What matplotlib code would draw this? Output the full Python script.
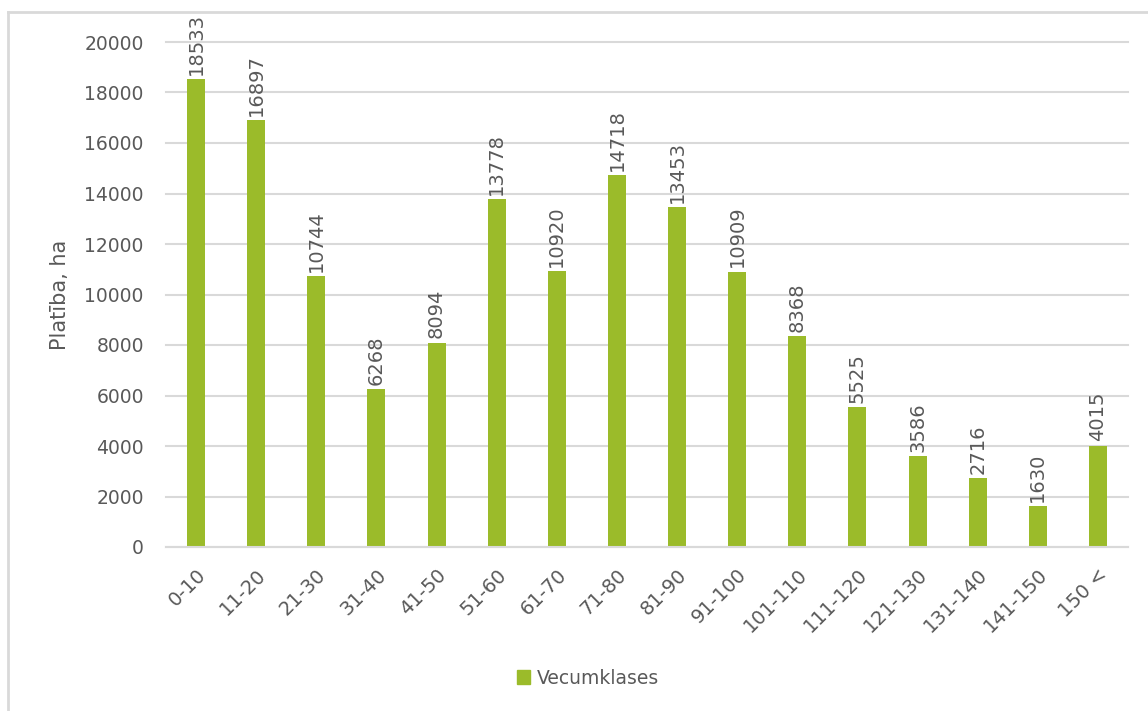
import matplotlib.pyplot as plt
from matplotlib.lines import Line2D
from matplotlib.patches import Patch

# age classes and area (ha)
categories = ["0-10", "11-20", "21-30", "31-40", "41-50", "51-60", "61-70", "71-80",
              "81-90", "91-100", "101-110", "111-120", "121-130", "131-140", "141-150", "150 <"]
values = [18533, 16897, 10744, 6268, 8094, 13778, 10920, 14718,
          13453, 10909, 8368, 5525, 3586, 2716, 1630, 4015]
yticks = list(range(0, 20001, 2000))

green = "#9BBB2A"
gray_txt = "#595959"
grid_col = "#D9D9D9"

plt.rcParams["font.family"] = ["DejaVu Sans"]

fig = plt.figure(figsize=(11.48, 7.11), dpi=100)
ax = fig.add_axes([166 / 1148, 1 - 547 / 711, 962 / 1148, 505 / 711])

x = list(range(len(categories)))
ax.bar(x, values, width=0.3, color=green, zorder=3)

for xi, v in zip(x, values):
    ax.annotate(str(v), (xi, v), xytext=(0, 3), textcoords="offset points",
                rotation=90, ha="center", va="bottom", fontsize=14, color=gray_txt)

ax.set_xlim(-0.5, len(categories) - 0.5)
ax.set_ylim(0, 20000)
ax.set_yticks(yticks)
ax.set_yticklabels([str(t) for t in yticks], fontsize=13.5, color=gray_txt)
ax.set_xticks(x)
ax.set_xticklabels(categories, rotation=45, ha="right", rotation_mode="anchor",
                   fontsize=14, color=gray_txt)
ax.tick_params(axis="both", length=0)
ax.tick_params(axis="y", pad=16)
ax.tick_params(axis="x", pad=13)

ax.grid(axis="y", color=grid_col, linewidth=1.5, zorder=0)
for gl in ax.get_ygridlines():
    gl.set_clip_on(False)
for s in ["top", "right", "left"]:
    ax.spines[s].set_visible(False)
ax.spines["bottom"].set_color(grid_col)
ax.spines["bottom"].set_linewidth(1.5)
ax.spines["bottom"].set_zorder(4)

ax.set_ylabel("Platība, ha", fontsize=15, color=gray_txt, labelpad=10)

fig.legend(handles=[Patch(color=green, label="Vecumklases")], loc="center",
           bbox_to_anchor=(588 / 1148, 1 - 678 / 711), frameon=False,
           fontsize=13.5, handlelength=0.7, handleheight=0.7, handletextpad=0.4,
           labelcolor=gray_txt)

# chart area frame (extends beyond the picture)
fig.add_artist(Line2D([8 / 1148, 1.0], [1 - 12 / 711, 1 - 12 / 711],
                      transform=fig.transFigure, color=grid_col, linewidth=2))
fig.add_artist(Line2D([8 / 1148, 8 / 1148], [0, 1 - 12 / 711],
                      transform=fig.transFigure, color=grid_col, linewidth=2))

fig.savefig("out.png", dpi=100)
